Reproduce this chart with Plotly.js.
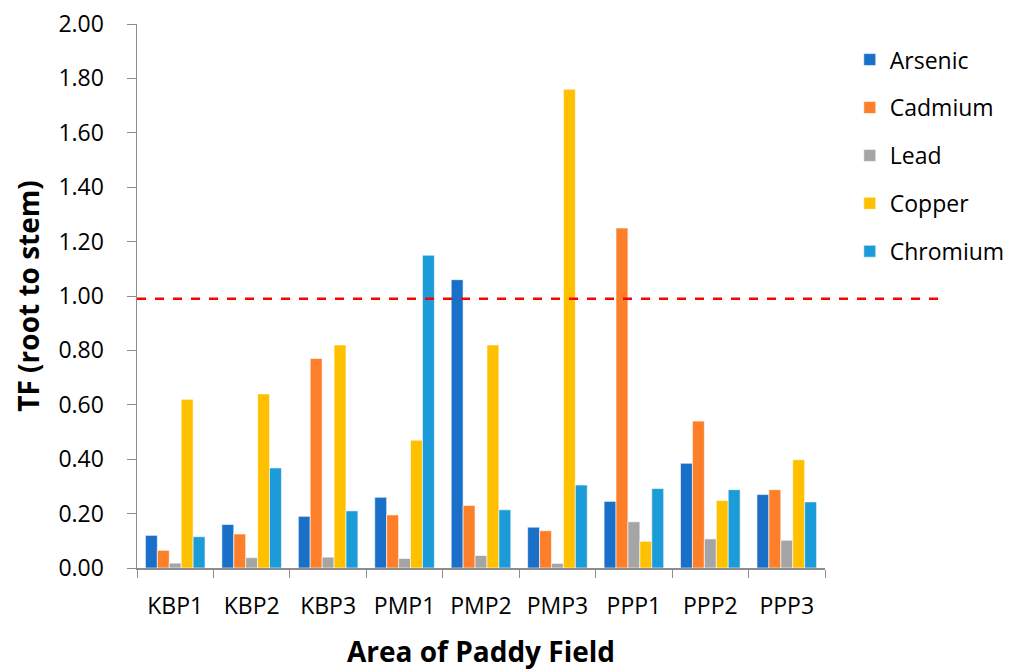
<!DOCTYPE html>
<html>
<head>
<meta charset="utf-8">
<script src="https://cdn.plot.ly/plotly-3.0.1.min.js"></script>
<style>html,body{margin:0;padding:0;background:#fff;}#chart{width:1027px;height:670px;}</style>
</head>
<body>
<div id="chart"></div>
<script>
const categories = ["KBP1","KBP2","KBP3","PMP1","PMP2","PMP3","PPP1","PPP2","PPP3"];
const arsenic  = [0.12, 0.16, 0.19, 0.26, 1.06, 0.15, 0.245, 0.385, 0.27];
const cadmium  = [0.065, 0.125, 0.77, 0.195, 0.23, 0.137, 1.25, 0.54, 0.288];
const lead     = [0.018, 0.038, 0.04, 0.035, 0.046, 0.017, 0.17, 0.107, 0.102];
const copper   = [0.62, 0.64, 0.82, 0.47, 0.82, 1.76, 0.098, 0.248, 0.398];
const chromium = [0.115, 0.368, 0.21, 1.15, 0.214, 0.305, 0.292, 0.288, 0.243];
const thresholdValue = 0.99;

const seriesNames = ["Arsenic","Cadmium","Lead","Copper","Chromium"];
const seriesData = [arsenic, cadmium, lead, copper, chromium];
const colors = ["#1a70c8","#fd7f2a","#a5a5a5","#ffc000","#1b9cd8"];

const traces = seriesNames.map((n,i)=>({
  type:"bar", name:n, x:categories, y:seriesData[i], legendgroup:n,
  marker:{color:colors[i], line:{color:"rgba(255,255,255,0.6)", width:1}}
}));

const font = "Open Sans, Noto Sans, DejaVu Sans, sans-serif";
const layout = {
  width:1027, height:670,
  margin:{l:137, r:202, t:24, b:102},
  paper_bgcolor:"#fff", plot_bgcolor:"#fff",
  barmode:"group", bargap:0.22, bargroupgap:0,
  font:{family:font, color:"#000"},
  showlegend:true,
  legend:{x:1.036, y:0.974, xanchor:"left", yanchor:"top", font:{size:23, family:font},
          traceorder:"grouped", tracegroupgap:15, itemwidth:30, bgcolor:"rgba(0,0,0,0)"},
  xaxis:{
    type:"category", showgrid:false, zeroline:false,
    showline:true, linecolor:"#8c8c8c", linewidth:2,
    ticks:"outside", tickson:"boundaries", ticklen:8, tickcolor:"#8c8c8c",
    ticklabelstandoff:16,
    tickfont:{size:23, family:font},
    title:{text:"<b>Area of Paddy Field</b>", font:{size:28, family:font}, standoff:26}
  },
  yaxis:{
    range:[0,2], dtick:0.2, tickformat:".2f", showgrid:false, zeroline:false,
    showline:true, linecolor:"#8c8c8c", linewidth:1.5,
    ticks:"outside", ticklen:9, tickcolor:"#8c8c8c",
    ticklabelstandoff:18,
    tickfont:{size:23, family:font},
    title:{text:"<b>TF (root to stem)</b>", font:{size:28, family:font}, standoff:10}
  },
  shapes:[{
    type:"line", xref:"paper", yref:"y", x0:0, x1:1.174, y0:thresholdValue, y1:thresholdValue,
    line:{color:"#ff0000", width:2.5, dash:"dash"}
  }]
};
Plotly.newPlot("chart", traces, layout, {displayModeBar:false, staticPlot:true});
</script>
</body>
</html>
